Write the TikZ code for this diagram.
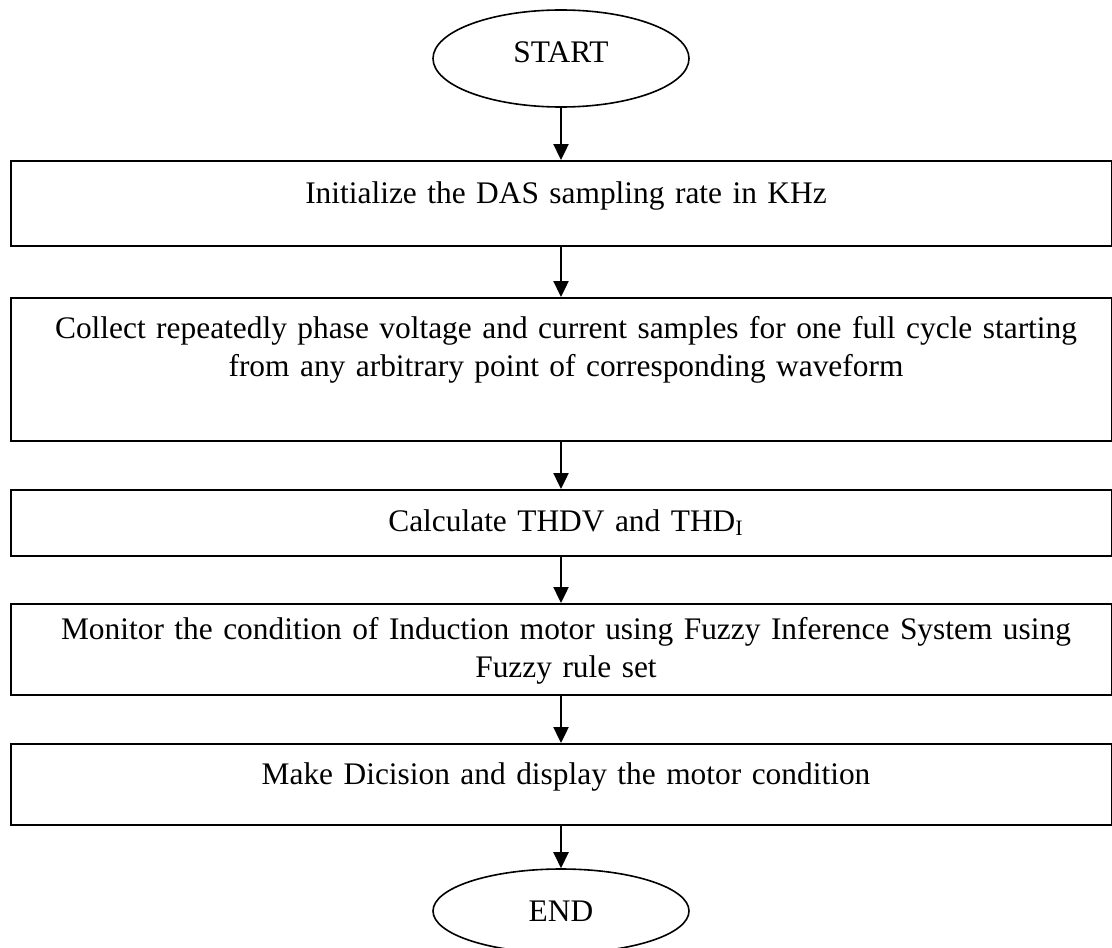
\documentclass[tikz,border=0pt]{standalone}
\usepackage{fontspec}
\setmainfont{Liberation Serif}
\usetikzlibrary{arrows.meta, shapes.geometric}

\begin{document}
\begin{tikzpicture}[x=0.5pt, y=-0.5pt,
  every node/.style={font=\fontsize{15.7}{19}\selectfont},
  term/.style={draw, line width=0.8pt, ellipse, minimum width=128pt, inner sep=0pt},
  stepbox/.style={draw, line width=1pt, rectangle, minimum width=550.5pt, inner sep=0pt, anchor=north},
  boxtext/.style={anchor=north, inner sep=0pt, text width=540pt, align=center},
  arr/.style={line width=1.2pt, -{Triangle[length=8pt, width=7.5pt]}}]
\useasboundingbox (0,0) rectangle (1112,947);
\clip (0,0) rectangle (1112,947);
% terminals and process boxes
\node[term, minimum height=48.5pt, text depth=6.5pt] (start) at (561,58.5) {START};
\foreach \name/\top/\h in {init/160/42.5, collect/297/71.5, thd/489/33, fuzzy/603/45.5, decide/743/40.5}
  \node[stepbox, minimum height=\h pt] (\name) at (561,\top) {};
\node[term, minimum height=42pt] (stop) at (561,911) {END};
% box texts
\node[boxtext] (initText) at (566,181) {Initialize the DAS sampling rate in KHz};
\node[boxtext] (collectText) at (566,316) {Collect repeatedly phase voltage and current samples for one full cycle starting\\
  from any arbitrary point of corresponding waveform};
\node[boxtext] (thdText) at (566,509) {Calculate THDV and THD\textsubscript{I}};
\node[boxtext] (fuzzyText) at (566,617) {Monitor the condition of Induction motor using Fuzzy Inference System using\\
  Fuzzy rule set};
\node[boxtext] (decideText) at (566,762) {Make Dicision and display the motor condition};
% arrows
\foreach \a/\b in {start/init, init/collect, collect/thd, thd/fuzzy, fuzzy/decide, decide/stop}
  \draw[arr] (\a) -- (\b);
\end{tikzpicture}
\end{document}
